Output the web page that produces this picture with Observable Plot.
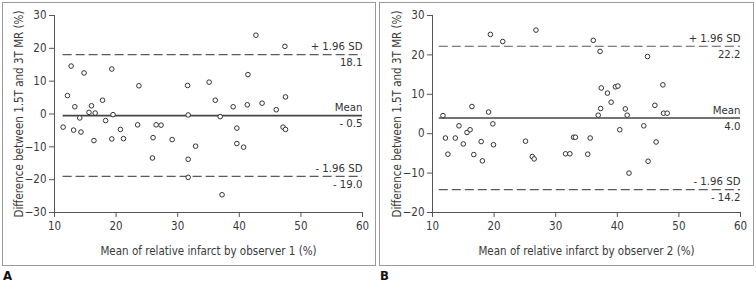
<!DOCTYPE html>
<html><head><meta charset="utf-8">
<script src="https://cdn.jsdelivr.net/npm/d3@7"></script>
<script src="https://cdn.jsdelivr.net/npm/@observablehq/plot@0.6"></script>
<style>
body{margin:0;background:#fff;font-family:"DejaVu Sans Condensed",sans-serif;}
#wrap{position:relative;width:756px;height:283px;}
.panel{position:absolute;top:0;width:378px;height:265px;}
.box{position:absolute;top:2px;height:264px;border:1px solid #9a9a9a;box-sizing:border-box;}
.tag{position:absolute;top:268px;font:bold 13px "DejaVu Sans Condensed",sans-serif;color:#111;}
</style></head><body>
<div id="wrap">
  <div class="box" style="left:2px;width:374px"></div>
  <div class="box" style="left:379px;width:375px"></div>
  <div class="panel" id="pa" style="left:0"></div>
  <div class="panel" id="pb" style="left:378px"></div>
  <div class="tag" style="left:3px">A</div>
  <div class="tag" style="left:380px">B</div>
</div>
<script>
// Panel A: mean of relative infarct by observer 1 vs difference
const ax = [11.4,12.1,12.7,13.1,13.3,14.1,14.3,14.8,15.6,16.0,16.4,16.6,17.8,18.3,19.3,19.3,19.5,20.7,21.2,23.5,23.7,25.9,26.0,26.5,27.3,29.1,31.6,31.7,31.7,31.7,32.9,35.1,36.1,36.9,37.2,39.0,39.6,39.6,40.7,41.3,41.4,42.7,43.7,46.0,47.1,47.4,47.5,47.5];
const ay = [-4.0,5.6,14.6,-4.9,2.2,-1.2,-5.5,12.5,0.5,2.5,-8.1,0.3,4.2,-2.0,13.7,-7.6,-0.2,-4.7,-7.5,-3.3,8.6,-13.4,-7.2,-3.3,-3.4,-7.8,8.7,-0.3,-13.8,-19.3,-9.8,9.7,4.2,-0.8,-24.6,2.2,-4.3,-9.0,-10.1,2.8,12.0,24.0,3.3,1.3,-4.0,20.6,5.2,-4.7];
// Panel B: mean of relative infarct by observer 2 vs difference
const bx = [11.7,12.1,12.5,13.7,14.3,15.0,15.6,16.1,16.4,16.7,17.9,18.1,19.1,19.4,19.8,19.9,21.4,25.1,26.2,26.5,26.8,31.6,32.3,32.9,33.2,35.2,35.6,36.1,36.9,37.2,37.3,37.4,38.4,39.0,39.7,40.1,40.4,41.3,41.6,41.9,44.3,44.9,45.0,46.1,46.3,47.4,47.5,48.1];
const by = [4.6,-1.1,-5.2,-1.1,2.0,-2.6,0.3,1.0,6.9,-5.3,-2.0,-6.9,5.5,25.2,2.5,-2.8,23.4,-1.9,-5.8,-6.4,26.3,-5.1,-5.1,-0.9,-0.9,-5.2,-1.1,23.7,4.7,20.9,6.4,11.6,10.3,8.0,11.9,12.1,1.0,6.3,4.7,-10.0,2.0,19.6,-7.0,7.2,-2.1,12.4,5.2,5.2];
// Bland-Altman statistics: [mean, +1.96 SD, -1.96 SD]
const statsA = [-0.5, 18.1, -19.0];
const statsB = [4.0, 22.2, -14.2];
const statLabelsA = ["- 0.5", "18.1", "- 19.0"];
const statLabelsB = ["4.0", "22.2", "- 14.2"];
const lineStartA = 11.4, lineStartB = 11.1;
const xTicks = [10,20,30,40,50,60];
const yTicksA = [-30,-20,-10,0,10,20,30];
const yTicksB = [-20,-10,0,10,20,30];
const yLabel = "Difference between 1.5T and 3T MR (%)";
const xLabelA = "Mean of relative infarct by observer 1 (%)";
const xLabelB = "Mean of relative infarct by observer 2 (%)";

const FONT = '"DejaVu Sans Condensed",sans-serif';

function panel(xs, ys, stats, statLabels, x0, yDomain, yTicks, xLabel){
  const pts = xs.map((x,i)=>({x, y: ys[i]}));
  const [m, up, lo] = stats;
  const ann = [
    {y: up, top: "+ 1.96 SD", bot: statLabels[1]},
    {y: m, top: "Mean", bot: statLabels[0]},
    {y: lo, top: "- 1.96 SD", bot: statLabels[2]}
  ];
  return Plot.plot({
    width: 378, height: 265,
    marginLeft: 54, marginRight: 16, marginTop: 15, marginBottom: 53,
    style: {fontFamily: FONT, fontSize: "11.3px", color: "#3a3a3a", background: "transparent"},
    x: {domain: [10, 60]},
    y: {domain: yDomain},
    marks: [
      Plot.axisX({ticks: xTicks, tickSize: 5, tickPadding: 4, fontSize: 11.5, label: xLabel, labelAnchor: "center", labelArrow: "none", labelOffset: 42, stroke: "#555"}),
      Plot.axisY({ticks: yTicks, tickSize: 5, tickPadding: 3, fontSize: 11.5, label: yLabel, labelAnchor: "center", labelArrow: "none", labelOffset: 40, stroke: "#555"}),
      Plot.ruleX([10], {stroke: "#555"}),
      Plot.ruleY([yDomain[0]], {stroke: "#555"}),
      Plot.ruleY([m], {x1: x0, x2: 60, stroke: "#444", strokeWidth: 1.6}),
      Plot.ruleY([up, lo], {x1: x0, x2: 60, stroke: "#5a5a5a", strokeWidth: 1.2, strokeDasharray: "9,4"}),
      Plot.dot(pts, {x: "x", y: "y", r: 2.3, stroke: "#333", strokeWidth: 1, fill: "white"}),
      Plot.text(ann, {x: 60, y: "y", text: "top", textAnchor: "end", dy: -8, fontSize: 11.3, fill: "#333"}),
      Plot.text(ann, {x: 60, y: "y", text: "bot", textAnchor: "end", dy: 8, fontSize: 11.3, fill: "#333"})
    ]
  });
}
document.getElementById("pa").append(panel(ax, ay, statsA, statLabelsA, lineStartA, [-30, 30], yTicksA, xLabelA));
document.getElementById("pb").append(panel(bx, by, statsB, statLabelsB, lineStartB, [-20, 30], yTicksB, xLabelB));
</script>
</body></html>
